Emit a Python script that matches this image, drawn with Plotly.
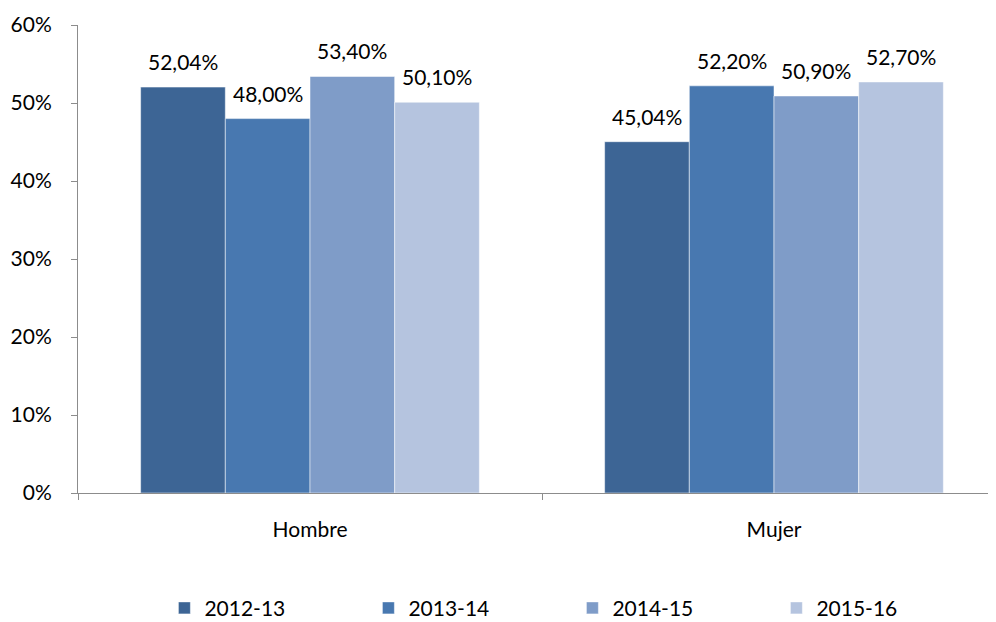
import plotly.graph_objects as go

categories = ['Hombre', 'Mujer']
series_names = ['2012-13', '2013-14', '2014-15', '2015-16']
values = [
    [0.5204, 0.4504],
    [0.4800, 0.5220],
    [0.5340, 0.5090],
    [0.5010, 0.5270],
]
colors = ['#3D6595', '#4878B0', '#7F9CC8', '#B5C4DF']

FONT = 'Lato'
FS = 21
BARGAP = 0.27

fig = go.Figure()

for name, vals, color in zip(series_names, values, colors):
    fig.add_trace(go.Bar(
        x=categories,
        y=vals,
        name=name,
        marker={'color': color, 'line': {'color': 'rgba(255,255,255,0.5)', 'width': 1}},
    ))

# Data labels above each bar
bar_w = (1 - BARGAP) / len(series_names)
for i, vals in enumerate(values):
    for j, v in enumerate(vals):
        fig.add_annotation(
            x=j + (i - (len(series_names) - 1) / 2) * bar_w,
            y=v,
            text=f'{v * 100:.2f}%'.replace('.', ','),
            showarrow=False,
            yanchor='bottom',
            yshift=11,
            font={'family': FONT, 'size': FS, 'color': 'black'},
        )

# page body adds an offset, margins compensate for it
fig.update_layout(
    barmode='group',
    bargap=BARGAP,
    bargroupgap=0,
    separators=',.',
    plot_bgcolor='white',
    paper_bgcolor='white',
    width=1009,
    height=622,
    margin={'l': 70, 'r': 11, 't': 17, 'b': 137, 'autoexpand': False},
    font={'family': FONT, 'size': FS, 'color': 'black'},
    showlegend=True,
    legend={
        'orientation': 'h',
        'x': 0.155, 'xanchor': 'left', 'xref': 'container',
        'y': 0.035, 'yanchor': 'middle', 'yref': 'container',
        'font': {'family': FONT, 'size': FS},
        'itemwidth': 30,
        'traceorder': 'normal',
        'entrywidth': 159,
    },
    xaxis={
        'showline': True, 'linecolor': '#8C8C8C', 'linewidth': 1,
        'ticks': 'outside', 'tickson': 'boundaries', 'ticklen': 6,
        'tickcolor': '#8C8C8C', 'showgrid': False,
        'ticklabelstandoff': 18, 'automargin': False,
    },
    yaxis={
        'range': [0, 0.6], 'dtick': 0.1, 'tickformat': '.0%',
        'showline': True, 'linecolor': '#8C8C8C', 'linewidth': 1,
        'ticks': 'outside', 'ticklen': 6, 'tickcolor': '#8C8C8C',
        'showgrid': False, 'zeroline': False,
        'ticklabelstandoff': 15, 'automargin': False,
    },
)

fig.write_html('out.html')
